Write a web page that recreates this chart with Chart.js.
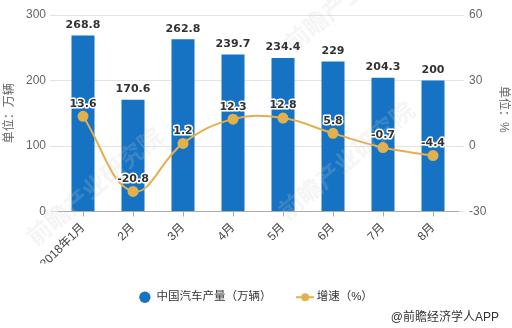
<!DOCTYPE html>
<html>
<head>
<meta charset="utf-8">
<script src="https://cdn.jsdelivr.net/npm/chart.js@4.4.1/dist/chart.umd.min.js"></script>
<style>
  html, body { margin: 0; padding: 0; background: #fff; }
  canvas { display: block; }
</style>
</head>
<body>
<canvas id="c" width="512" height="328"></canvas>
<script>
// Monthly car output (10k units) and year-on-year growth (%)
const months = ['2018年1月', '2月', '3月', '4月', '5月', '6月', '7月', '8月'];
const output = [268.8, 170.6, 262.8, 239.7, 234.4, 229, 204.3, 200];
const growth = [13.6, -20.8, 1.2, 12.3, 12.8, 5.8, -0.7, -4.4];
const outputRange = [0, 300, 100];   // min, max, step
const growthRange = [-30, 60, 30];

const BLUE = '#1673C3';
const GOLD = '#E3B04E';
const LABEL_FONT = 'bold 11px "DejaVu Sans", sans-serif';
const TEXT_FONT = '"Liberation Sans", "Noto Sans CJK SC", sans-serif';

// Legend marker for the growth series: short line with a dot
const lineMarker = document.createElement('canvas');
lineMarker.width = 18; lineMarker.height = 10;
(function () {
  const g = lineMarker.getContext('2d');
  g.strokeStyle = GOLD; g.lineWidth = 2;
  g.beginPath(); g.moveTo(0, 5); g.lineTo(18, 5); g.stroke();
  g.fillStyle = GOLD;
  g.beginPath(); g.arc(9, 5, 4, 0, Math.PI * 2); g.fill();
})();

// Faint diagonal brand marks, axis titles, value labels and credit line
const decorations = {
  id: 'decorations',
  afterDatasetsDraw(chart) {
    const ctx = chart.ctx;
    ctx.save();

    // diagonal brand text
    ctx.font = 'bold 24px "Noto Sans CJK SC", sans-serif';
    ctx.fillStyle = 'rgba(205,205,205,0.2)';
    ctx.textBaseline = 'middle';
    ctx.textAlign = 'left';
    [[30, 240], [282, 214], [288, 46]].forEach(([x, y]) => {
      ctx.save();
      ctx.translate(x, y);
      ctx.rotate(-40 * Math.PI / 180);
      ctx.fillText('前瞻产业研究院', 0, 0);
      ctx.restore();
    });

    // bar values
    ctx.font = LABEL_FONT;
    ctx.textAlign = 'center';
    ctx.textBaseline = 'bottom';
    ctx.fillStyle = '#333';
    chart.getDatasetMeta(0).data.forEach((bar, i) => {
      ctx.fillText(String(output[i]), bar.x, bar.y - 5);
    });

    // growth values with a white halo
    ctx.lineJoin = 'round';
    chart.getDatasetMeta(1).data.forEach((pt, i) => {
      const t = String(growth[i]);
      ctx.lineWidth = 3;
      ctx.strokeStyle = '#fff';
      ctx.strokeText(t, pt.x, pt.y - 7);
      ctx.fillStyle = '#333';
      ctx.fillText(t, pt.x, pt.y - 7);
    });

    // axis titles
    const area = chart.chartArea;
    const midY = (area.top + area.bottom) / 2;
    ctx.font = '12px ' + TEXT_FONT;
    ctx.fillStyle = '#666';
    ctx.textAlign = 'center';
    ctx.textBaseline = 'middle';
    ctx.save();
    ctx.translate(10, midY);
    ctx.rotate(-Math.PI / 2);
    ctx.fillText('单位：万辆', 0, 0);
    ctx.restore();
    ctx.save();
    ctx.translate(503, midY - 4);
    ctx.rotate(Math.PI / 2);
    ctx.fillText('单位：%', 0, 0);
    ctx.restore();

    // credit line
    ctx.font = '12px ' + TEXT_FONT;
    ctx.fillStyle = '#333';
    ctx.textAlign = 'right';
    ctx.fillText('@前瞻经济学人APP', 499, 318);

    ctx.restore();
  }
};

new Chart(document.getElementById('c'), {
  data: {
    labels: months,
    datasets: [
      {
        type: 'bar',
        label: '中国汽车产量（万辆）',
        data: output,
        backgroundColor: BLUE,
        yAxisID: 'y',
        order: 1,
        categoryPercentage: 1,
        barPercentage: 0.46
      },
      {
        type: 'line',
        label: '增速（%）',
        data: growth,
        borderColor: GOLD,
        backgroundColor: GOLD,
        borderWidth: 2,
        pointRadius: 4.5,
        pointBackgroundColor: GOLD,
        pointBorderColor: GOLD,
        tension: 0.4,
        yAxisID: 'y1',
        order: 0
      }
    ]
  },
  options: {
    responsive: false,
    animation: false,
    layout: { padding: { top: 15, bottom: 15, left: 0, right: 0 } },
    plugins: {
      tooltip: { enabled: false },
      legend: {
        position: 'bottom',
        labels: {
          usePointStyle: true,
          boxHeight: 8,
          padding: 28,
          color: '#333',
          font: { size: 11.5, family: TEXT_FONT },
          generateLabels(chart) {
            const ds = chart.data.datasets;
            return [
              { text: ds[0].label, fillStyle: BLUE, strokeStyle: BLUE, lineWidth: 0, pointStyle: 'circle', datasetIndex: 0, hidden: false, fontColor: '#333' },
              { text: ds[1].label, fillStyle: GOLD, strokeStyle: GOLD, lineWidth: 0, pointStyle: lineMarker, datasetIndex: 1, hidden: false, fontColor: '#333' }
            ];
          }
        }
      }
    },
    scales: {
      x: {
        afterFit(s) { s.height = 52; },
        grid: { display: true, drawOnChartArea: false, offset: false, tickLength: 5, color: '#aaa' },
        border: { display: true, color: '#aaa' },
        ticks: {
          color: '#444',
          font: { size: 12, family: TEXT_FONT },
          minRotation: 45,
          maxRotation: 45,
          padding: 4
        }
      },
      y: {
        position: 'left',
        min: outputRange[0], max: outputRange[1],
        afterFit(s) { s.width = 58; },
        grid: { color: '#e3e3e3', tickLength: 8 },
        border: { display: false },
        ticks: { stepSize: outputRange[2], color: '#666', font: { size: 12, family: TEXT_FONT }, padding: 4 }
      },
      y1: {
        position: 'right',
        min: growthRange[0], max: growthRange[1],
        afterFit(s) { s.width = 54; },
        grid: { drawOnChartArea: false, color: '#e3e3e3', tickLength: 6 },
        border: { display: false },
        ticks: { stepSize: growthRange[2], color: '#666', font: { size: 12, family: TEXT_FONT }, padding: 5 }
      }
    }
  },
  plugins: [decorations]
});
</script>
</body>
</html>
